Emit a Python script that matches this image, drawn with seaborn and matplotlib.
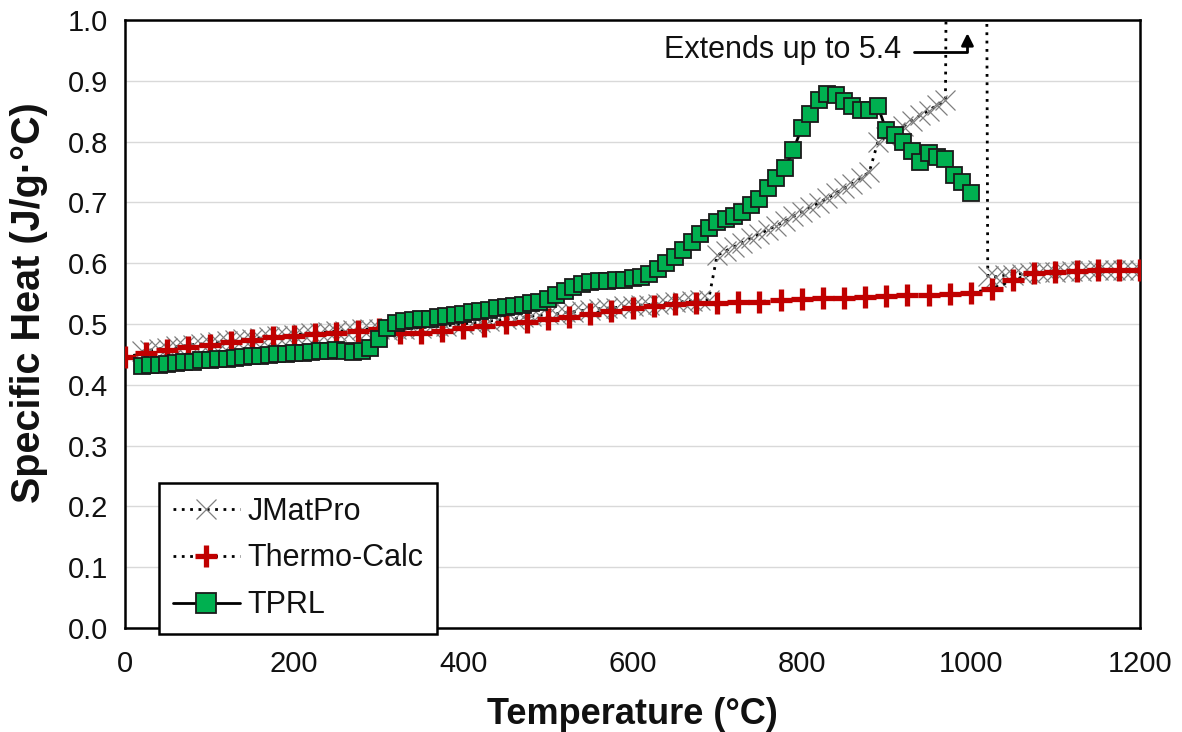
import numpy as np
import pandas as pd
import matplotlib
matplotlib.use("Agg")
import matplotlib.pyplot as plt
from matplotlib.lines import Line2D
from matplotlib.ticker import MultipleLocator
import seaborn as sns

# ---------------- data ----------------
jmat_T = [20, 30, 40, 50, 60, 70, 80, 90, 100, 110, 120, 130, 140, 150, 160, 170, 180, 190,
          200, 210, 220, 230, 240, 250, 260, 270, 280, 290, 300, 310, 320, 330, 340, 350,
          360, 370, 380, 390, 400, 410, 420, 430, 440, 450, 460, 470, 480, 490, 500, 510,
          520, 530, 540, 550, 560, 570, 580, 590, 600, 610, 620, 630, 640, 650, 660, 670,
          680, 690, 700, 710, 720, 730, 740, 750, 760, 770, 780, 790, 800, 810, 820, 830,
          840, 850, 860, 870, 880, 890, 900, 910, 920, 930, 940, 950, 960, 970, 980, 990,
          1000, 1010, 1020, 1030, 1040, 1050, 1060, 1070, 1080, 1090, 1100, 1110, 1120,
          1130, 1140, 1150, 1160, 1170, 1180, 1190, 1200]
jmat_cp = [0.455, 0.457, 0.459, 0.461, 0.463, 0.464, 0.466, 0.467, 0.469, 0.470, 0.472,
           0.473, 0.475, 0.476, 0.477, 0.479, 0.480, 0.481, 0.482, 0.484, 0.485, 0.486,
           0.487, 0.488, 0.489, 0.490, 0.491, 0.492, 0.492, 0.490, 0.491, 0.492, 0.493,
           0.494, 0.495, 0.496, 0.497, 0.499, 0.500, 0.502, 0.503, 0.505, 0.506, 0.508,
           0.509, 0.511, 0.513, 0.514, 0.516, 0.517, 0.519, 0.520, 0.522, 0.523, 0.525,
           0.526, 0.527, 0.529, 0.530, 0.531, 0.532, 0.533, 0.535, 0.536, 0.537, 0.538,
           0.539, 0.540, 0.613, 0.620, 0.627, 0.634, 0.641, 0.648, 0.655, 0.662, 0.669,
           0.677, 0.684, 0.692, 0.699, 0.707, 0.715, 0.723, 0.731, 0.740, 0.750, 0.799,
           0.808, 0.816, 0.825, 0.834, 0.843, 0.851, 0.860, 0.868, 3.0, 5.4, 5.0, 4.5,
           0.579, 0.578, 0.580, 0.581, 0.583, 0.584, 0.585, 0.586, 0.586, 0.587, 0.587,
           0.587, 0.588, 0.588, 0.588, 0.588, 0.588, 0.588, 0.588]

tc_T = [0, 25, 50, 75, 100, 125, 150, 175, 200, 225, 250, 275, 300, 325, 350, 375, 400,
        425, 450, 475, 500, 525, 550, 575, 600, 625, 650, 675, 700, 725, 750, 775, 800,
        825, 850, 875, 900, 925, 950, 975, 1000, 1025, 1050, 1075, 1100, 1125, 1150,
        1175, 1200]
tc_cp = [0.446, 0.452, 0.457, 0.462, 0.466, 0.470, 0.474, 0.478, 0.481, 0.484, 0.486,
         0.488, 0.491, 0.485, 0.486, 0.488, 0.493, 0.497, 0.501, 0.504, 0.508, 0.512,
         0.517, 0.522, 0.526, 0.530, 0.533, 0.534, 0.535, 0.536, 0.537, 0.539, 0.541,
         0.542, 0.543, 0.545, 0.546, 0.547, 0.548, 0.549, 0.551, 0.558, 0.572, 0.584,
         0.586, 0.587, 0.588, 0.588, 0.588]

tprl_T = [20, 30, 40, 50, 60, 70, 80, 90, 100, 110, 120, 130, 140, 150, 160, 170, 180,
          190, 200, 210, 220, 230, 240, 250, 260, 270, 280, 290, 300, 310, 320, 330, 340,
          350, 360, 370, 380, 390, 400, 410, 420, 430, 440, 450, 460, 470, 480, 490, 500,
          510, 520, 530, 540, 550, 560, 570, 580, 590, 600, 610, 620, 630, 640, 650, 660,
          670, 680, 690, 700, 710, 720, 730, 740, 750, 760, 770, 780, 790, 800, 810, 820,
          830, 840, 850, 860, 870, 880, 890, 900, 910, 920, 930, 940, 950, 960, 970, 980,
          990, 1000]
tprl_cp = [0.431, 0.432, 0.433, 0.434, 0.436, 0.437, 0.438, 0.440, 0.441, 0.442, 0.443,
           0.444, 0.446, 0.447, 0.448, 0.449, 0.450, 0.451, 0.452, 0.453, 0.454, 0.455,
           0.456, 0.457, 0.456, 0.454, 0.455, 0.460, 0.475, 0.493, 0.501, 0.505, 0.507,
           0.508, 0.509, 0.511, 0.513, 0.515, 0.517, 0.519, 0.521, 0.523, 0.526, 0.528,
           0.530, 0.532, 0.534, 0.537, 0.541, 0.547, 0.554, 0.561, 0.566, 0.569, 0.570,
           0.571, 0.572, 0.573, 0.575, 0.578, 0.582, 0.590, 0.600, 0.611, 0.622, 0.635,
           0.648, 0.658, 0.668, 0.672, 0.677, 0.684, 0.695, 0.706, 0.724, 0.740, 0.756,
           0.786, 0.822, 0.846, 0.868, 0.879, 0.877, 0.866, 0.858, 0.852, 0.852, 0.858,
           0.819, 0.811, 0.800, 0.784, 0.767, 0.781, 0.775, 0.772, 0.745, 0.734, 0.715]

series_names = ["JMatPro", "Thermo-Calc", "TPRL"]
x_ticks = [0, 200, 400, 600, 800, 1000, 1200]
y_ticks = [0.0, 0.1, 0.2, 0.3, 0.4, 0.5, 0.6, 0.7, 0.8, 0.9, 1.0]
annotation_text = "Extends up to 5.4"

# ---------------- style ----------------
sns.set_theme(style="white")
plt.rcParams["font.family"] = ["Liberation Sans", "DejaVu Sans"]

GREEN = "#00B050"
RED = "#C00000"
GRAY = "#7F7F7F"
TXT = "#111111"

fig = plt.figure(figsize=(11.82, 7.32), dpi=100)
ax = fig.add_axes([125 / 1182, 1 - 628 / 732, 1015 / 1182, 608 / 732])

df_j = pd.DataFrame({"T": jmat_T, "cp": jmat_cp})
df_t = pd.DataFrame({"T": tc_T, "cp": tc_cp})
df_p = pd.DataFrame({"T": tprl_T, "cp": tprl_cp})

sns.lineplot(data=df_j, x="T", y="cp", ax=ax, sort=False, estimator=None,
             color="black", linestyle=(0, (1, 2)), linewidth=2.0,
             marker="x", markersize=14, markeredgecolor=GRAY,
             markeredgewidth=0.9, zorder=2)
sns.lineplot(data=df_t, x="T", y="cp", ax=ax, sort=False, estimator=None,
             color="black", linestyle=(0, (1, 2)), linewidth=2.0,
             marker="+", markersize=16, markeredgecolor=RED,
             markeredgewidth=3.8, zorder=3)
sns.lineplot(data=df_p, x="T", y="cp", ax=ax, sort=False, estimator=None,
             color="black", linestyle="-", linewidth=2.0,
             marker="s", markersize=12, markerfacecolor=GREEN,
             markeredgecolor="#1a1a1a", markeredgewidth=1.3, zorder=4)

ax.set_xlim(0, 1200)
ax.set_ylim(0, 1.0)
ax.set_xticks(x_ticks)
ax.set_yticks(y_ticks)
ax.set_xticklabels([str(t) for t in x_ticks])
ax.set_yticklabels([f"{t:.1f}" for t in y_ticks])
ax.xaxis.set_minor_locator(MultipleLocator(100))
ax.yaxis.set_minor_locator(MultipleLocator(0.05))

ax.grid(axis="y", which="major", color="#d9d9d9", linewidth=1.0, zorder=0)
ax.grid(axis="x", visible=False)
ax.set_axisbelow(True)

for sp in ax.spines.values():
    sp.set_visible(True)
    sp.set_color("black")
    sp.set_linewidth(1.8)

ax.tick_params(axis="both", which="major", direction="inout", length=12, width=1.5,
               color="black", labelsize=21, labelcolor=TXT, pad=6)
ax.tick_params(axis="x", which="major", pad=10)
ax.tick_params(axis="both", which="minor", direction="in", length=6, width=1.5,
               color="black")
ax.tick_params(axis="x", which="both", top=False)
ax.tick_params(axis="y", which="both", right=False)

ax.set_xlabel("Temperature (°C)", fontsize=26, fontweight="bold", color=TXT)
ax.set_ylabel("Specific Heat (J/g·°C)", fontsize=28.5, fontweight="bold", color=TXT)
ax.xaxis.set_label_coords(0.5, -0.113)
ax.yaxis.set_label_coords(-0.076, 0.535)

# annotation
ax.text(917, 0.951, annotation_text, fontsize=22, ha="right", va="center",
        color=TXT)
ax.annotate("", xy=(996, 0.983), xytext=(930, 0.947),
            arrowprops=dict(arrowstyle="-|>,head_length=0.6,head_width=0.3",
                            color="black", lw=2.0,
                            connectionstyle="angle,angleA=0,angleB=90,rad=0"),
            annotation_clip=False)

# legend
handles = [
    Line2D([], [], color="black", linestyle=(0, (1, 2)), linewidth=2.0, marker="x",
           markersize=15, markeredgecolor=GRAY, markeredgewidth=0.9),
    Line2D([], [], color="black", linestyle=(0, (1, 2)), linewidth=2.0, marker="+",
           markersize=16, markeredgecolor=RED, markeredgewidth=3.8),
    Line2D([], [], color="black", linestyle="-", linewidth=2.0, marker="s",
           markersize=14, markerfacecolor=GREEN, markeredgecolor="#1a1a1a",
           markeredgewidth=1.3),
]
leg = ax.legend(handles, series_names, loc="lower left",
                bbox_to_anchor=(0.0335, -0.0099), borderaxespad=0,
                fontsize=22, frameon=True, fancybox=False, framealpha=1,
                edgecolor="black", handlelength=2.2, handletextpad=0.25,
                labelspacing=0.55, borderpad=0.45)
leg.get_frame().set_linewidth(1.8)
leg.set_zorder(10)
for t in leg.get_texts():
    t.set_color(TXT)

fig.savefig("out.png", dpi=100)
